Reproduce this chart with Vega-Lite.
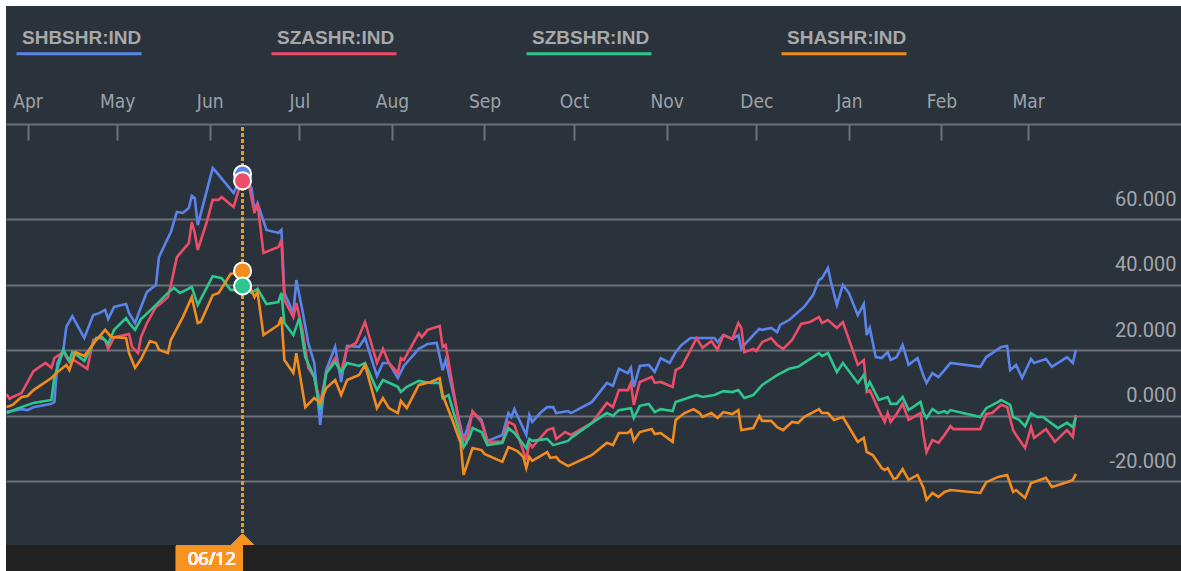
{
  "$schema": "https://vega.github.io/schema/vega-lite/v6.json",
  "width": 1175,
  "height": 565,
  "autosize": {"type": "none"},
  "padding": {"left": 6, "top": 6, "right": 0, "bottom": 0},
  "background": "#ffffff",
  "config": {"view": {"fill": "#2a323c", "stroke": null}, "font": "Roboto"},
  "data": {"values": [
    {"s":"SHBSHR:IND","d":"2015-03-25","v":1.3},{"s":"SHBSHR:IND","d":"2015-03-30","v":2.1},{"s":"SHBSHR:IND","d":"2015-04-01","v":1.8},{"s":"SHBSHR:IND","d":"2015-04-03","v":2.7},{"s":"SHBSHR:IND","d":"2015-04-09","v":3.7},{"s":"SHBSHR:IND","d":"2015-04-10","v":4.3},{"s":"SHBSHR:IND","d":"2015-04-11","v":16.2},{"s":"SHBSHR:IND","d":"2015-04-13","v":20.2},{"s":"SHBSHR:IND","d":"2015-04-14","v":27.2},{"s":"SHBSHR:IND","d":"2015-04-16","v":30.5},{"s":"SHBSHR:IND","d":"2015-04-20","v":23.8},{"s":"SHBSHR:IND","d":"2015-04-23","v":30.8},{"s":"SHBSHR:IND","d":"2015-04-25","v":31.4},{"s":"SHBSHR:IND","d":"2015-04-27","v":32.4},{"s":"SHBSHR:IND","d":"2015-04-28","v":29.6},{"s":"SHBSHR:IND","d":"2015-04-30","v":33.3},{"s":"SHBSHR:IND","d":"2015-05-04","v":34.2},{"s":"SHBSHR:IND","d":"2015-05-05","v":31.4},{"s":"SHBSHR:IND","d":"2015-05-07","v":28.4},{"s":"SHBSHR:IND","d":"2015-05-09","v":33.3},{"s":"SHBSHR:IND","d":"2015-05-11","v":37.9},{"s":"SHBSHR:IND","d":"2015-05-14","v":40.0},{"s":"SHBSHR:IND","d":"2015-05-15","v":48.5},{"s":"SHBSHR:IND","d":"2015-05-18","v":54.3},{"s":"SHBSHR:IND","d":"2015-05-19","v":56.2},{"s":"SHBSHR:IND","d":"2015-05-21","v":62.3},{"s":"SHBSHR:IND","d":"2015-05-23","v":62.0},{"s":"SHBSHR:IND","d":"2015-05-25","v":63.5},{"s":"SHBSHR:IND","d":"2015-05-26","v":67.2},{"s":"SHBSHR:IND","d":"2015-05-27","v":66.6},{"s":"SHBSHR:IND","d":"2015-05-28","v":58.3},{"s":"SHBSHR:IND","d":"2015-06-02","v":75.7},{"s":"SHBSHR:IND","d":"2015-06-04","v":73.6},{"s":"SHBSHR:IND","d":"2015-06-09","v":68.1},{"s":"SHBSHR:IND","d":"2015-06-11","v":72.1},{"s":"SHBSHR:IND","d":"2015-06-12","v":73.9},{"s":"SHBSHR:IND","d":"2015-06-15","v":69.6},{"s":"SHBSHR:IND","d":"2015-06-16","v":62.9},{"s":"SHBSHR:IND","d":"2015-06-17","v":65.0},{"s":"SHBSHR:IND","d":"2015-06-20","v":56.8},{"s":"SHBSHR:IND","d":"2015-06-24","v":55.9},{"s":"SHBSHR:IND","d":"2015-06-25","v":56.8},{"s":"SHBSHR:IND","d":"2015-06-26","v":37.6},{"s":"SHBSHR:IND","d":"2015-06-29","v":31.4},{"s":"SHBSHR:IND","d":"2015-06-30","v":41.5},{"s":"SHBSHR:IND","d":"2015-07-02","v":32.4},{"s":"SHBSHR:IND","d":"2015-07-04","v":22.3},{"s":"SHBSHR:IND","d":"2015-07-06","v":16.2},{"s":"SHBSHR:IND","d":"2015-07-08","v":-2.7},{"s":"SHBSHR:IND","d":"2015-07-10","v":14.0},{"s":"SHBSHR:IND","d":"2015-07-13","v":21.1},{"s":"SHBSHR:IND","d":"2015-07-15","v":10.4},{"s":"SHBSHR:IND","d":"2015-07-17","v":21.4},{"s":"SHBSHR:IND","d":"2015-07-21","v":21.1},{"s":"SHBSHR:IND","d":"2015-07-23","v":23.8},{"s":"SHBSHR:IND","d":"2015-07-27","v":12.2},{"s":"SHBSHR:IND","d":"2015-07-29","v":16.2},{"s":"SHBSHR:IND","d":"2015-07-31","v":16.2},{"s":"SHBSHR:IND","d":"2015-08-03","v":11.6},{"s":"SHBSHR:IND","d":"2015-08-05","v":15.3},{"s":"SHBSHR:IND","d":"2015-08-10","v":20.5},{"s":"SHBSHR:IND","d":"2015-08-13","v":22.0},{"s":"SHBSHR:IND","d":"2015-08-16","v":22.3},{"s":"SHBSHR:IND","d":"2015-08-18","v":14.0},{"s":"SHBSHR:IND","d":"2015-08-19","v":17.1},{"s":"SHBSHR:IND","d":"2015-08-25","v":-7.3},{"s":"SHBSHR:IND","d":"2015-08-28","v":1.2},{"s":"SHBSHR:IND","d":"2015-08-31","v":-1.2},{"s":"SHBSHR:IND","d":"2015-09-02","v":-7.6},{"s":"SHBSHR:IND","d":"2015-09-07","v":-5.8},{"s":"SHBSHR:IND","d":"2015-09-09","v":0.9},{"s":"SHBSHR:IND","d":"2015-09-10","v":-0.3},{"s":"SHBSHR:IND","d":"2015-09-11","v":2.1},{"s":"SHBSHR:IND","d":"2015-09-15","v":-5.8},{"s":"SHBSHR:IND","d":"2015-09-16","v":0.3},{"s":"SHBSHR:IND","d":"2015-09-17","v":-1.8},{"s":"SHBSHR:IND","d":"2015-09-20","v":1.2},{"s":"SHBSHR:IND","d":"2015-09-22","v":2.7},{"s":"SHBSHR:IND","d":"2015-09-24","v":2.7},{"s":"SHBSHR:IND","d":"2015-09-25","v":0.9},{"s":"SHBSHR:IND","d":"2015-09-29","v":1.5},{"s":"SHBSHR:IND","d":"2015-09-30","v":0.9},{"s":"SHBSHR:IND","d":"2015-10-07","v":4.3},{"s":"SHBSHR:IND","d":"2015-10-12","v":10.1},{"s":"SHBSHR:IND","d":"2015-10-14","v":9.2},{"s":"SHBSHR:IND","d":"2015-10-16","v":14.4},{"s":"SHBSHR:IND","d":"2015-10-19","v":13.1},{"s":"SHBSHR:IND","d":"2015-10-20","v":14.7},{"s":"SHBSHR:IND","d":"2015-10-21","v":8.9},{"s":"SHBSHR:IND","d":"2015-10-23","v":15.3},{"s":"SHBSHR:IND","d":"2015-10-26","v":15.6},{"s":"SHBSHR:IND","d":"2015-10-28","v":13.4},{"s":"SHBSHR:IND","d":"2015-10-30","v":17.7},{"s":"SHBSHR:IND","d":"2015-11-02","v":16.2},{"s":"SHBSHR:IND","d":"2015-11-04","v":19.5},{"s":"SHBSHR:IND","d":"2015-11-06","v":21.7},{"s":"SHBSHR:IND","d":"2015-11-09","v":23.8},{"s":"SHBSHR:IND","d":"2015-11-12","v":23.8},{"s":"SHBSHR:IND","d":"2015-11-17","v":23.8},{"s":"SHBSHR:IND","d":"2015-11-18","v":22.6},{"s":"SHBSHR:IND","d":"2015-11-20","v":24.7},{"s":"SHBSHR:IND","d":"2015-11-23","v":23.5},{"s":"SHBSHR:IND","d":"2015-11-25","v":24.7},{"s":"SHBSHR:IND","d":"2015-11-26","v":20.5},{"s":"SHBSHR:IND","d":"2015-11-27","v":21.7},{"s":"SHBSHR:IND","d":"2015-11-30","v":24.7},{"s":"SHBSHR:IND","d":"2015-12-02","v":26.6},{"s":"SHBSHR:IND","d":"2015-12-03","v":26.3},{"s":"SHBSHR:IND","d":"2015-12-06","v":26.9},{"s":"SHBSHR:IND","d":"2015-12-08","v":25.6},{"s":"SHBSHR:IND","d":"2015-12-09","v":27.8},{"s":"SHBSHR:IND","d":"2015-12-12","v":29.3},{"s":"SHBSHR:IND","d":"2015-12-17","v":33.3},{"s":"SHBSHR:IND","d":"2015-12-20","v":36.9},{"s":"SHBSHR:IND","d":"2015-12-22","v":41.5},{"s":"SHBSHR:IND","d":"2015-12-23","v":42.1},{"s":"SHBSHR:IND","d":"2015-12-25","v":45.2},{"s":"SHBSHR:IND","d":"2015-12-26","v":40.9},{"s":"SHBSHR:IND","d":"2015-12-28","v":33.9},{"s":"SHBSHR:IND","d":"2015-12-30","v":40.0},{"s":"SHBSHR:IND","d":"2016-01-01","v":37.6},{"s":"SHBSHR:IND","d":"2016-01-04","v":30.8},{"s":"SHBSHR:IND","d":"2016-01-06","v":34.2},{"s":"SHBSHR:IND","d":"2016-01-07","v":24.7},{"s":"SHBSHR:IND","d":"2016-01-08","v":26.9},{"s":"SHBSHR:IND","d":"2016-01-10","v":18.0},{"s":"SHBSHR:IND","d":"2016-01-12","v":17.7},{"s":"SHBSHR:IND","d":"2016-01-14","v":19.5},{"s":"SHBSHR:IND","d":"2016-01-15","v":17.1},{"s":"SHBSHR:IND","d":"2016-01-17","v":18.0},{"s":"SHBSHR:IND","d":"2016-01-19","v":21.7},{"s":"SHBSHR:IND","d":"2016-01-21","v":15.6},{"s":"SHBSHR:IND","d":"2016-01-24","v":17.7},{"s":"SHBSHR:IND","d":"2016-01-26","v":12.2},{"s":"SHBSHR:IND","d":"2016-01-27","v":10.1},{"s":"SHBSHR:IND","d":"2016-01-29","v":13.1},{"s":"SHBSHR:IND","d":"2016-01-31","v":11.9},{"s":"SHBSHR:IND","d":"2016-02-02","v":14.0},{"s":"SHBSHR:IND","d":"2016-02-04","v":16.2},{"s":"SHBSHR:IND","d":"2016-02-14","v":15.0},{"s":"SHBSHR:IND","d":"2016-02-16","v":18.0},{"s":"SHBSHR:IND","d":"2016-02-18","v":19.2},{"s":"SHBSHR:IND","d":"2016-02-21","v":21.1},{"s":"SHBSHR:IND","d":"2016-02-23","v":21.4},{"s":"SHBSHR:IND","d":"2016-02-24","v":14.0},{"s":"SHBSHR:IND","d":"2016-02-26","v":15.6},{"s":"SHBSHR:IND","d":"2016-02-28","v":11.6},{"s":"SHBSHR:IND","d":"2016-03-02","v":17.4},{"s":"SHBSHR:IND","d":"2016-03-03","v":16.2},{"s":"SHBSHR:IND","d":"2016-03-07","v":17.4},{"s":"SHBSHR:IND","d":"2016-03-09","v":15.0},{"s":"SHBSHR:IND","d":"2016-03-14","v":18.0},{"s":"SHBSHR:IND","d":"2016-03-16","v":16.2},{"s":"SHBSHR:IND","d":"2016-03-17","v":20.2},

    {"s":"SZASHR:IND","d":"2015-03-25","v":6.7},{"s":"SZASHR:IND","d":"2015-03-26","v":5.2},{"s":"SZASHR:IND","d":"2015-03-27","v":5.8},{"s":"SZASHR:IND","d":"2015-03-30","v":7.0},{"s":"SZASHR:IND","d":"2015-04-03","v":13.7},{"s":"SZASHR:IND","d":"2015-04-07","v":16.2},{"s":"SZASHR:IND","d":"2015-04-09","v":14.7},{"s":"SZASHR:IND","d":"2015-04-10","v":17.7},{"s":"SZASHR:IND","d":"2015-04-13","v":19.5},{"s":"SZASHR:IND","d":"2015-04-15","v":16.5},{"s":"SZASHR:IND","d":"2015-04-16","v":17.4},{"s":"SZASHR:IND","d":"2015-04-17","v":16.8},{"s":"SZASHR:IND","d":"2015-04-21","v":14.4},{"s":"SZASHR:IND","d":"2015-04-23","v":23.2},{"s":"SZASHR:IND","d":"2015-04-25","v":23.8},{"s":"SZASHR:IND","d":"2015-04-27","v":23.2},{"s":"SZASHR:IND","d":"2015-04-28","v":20.5},{"s":"SZASHR:IND","d":"2015-04-30","v":24.1},{"s":"SZASHR:IND","d":"2015-05-05","v":25.0},{"s":"SZASHR:IND","d":"2015-05-06","v":21.1},{"s":"SZASHR:IND","d":"2015-05-08","v":19.2},{"s":"SZASHR:IND","d":"2015-05-09","v":24.1},{"s":"SZASHR:IND","d":"2015-05-11","v":28.4},{"s":"SZASHR:IND","d":"2015-05-14","v":33.3},{"s":"SZASHR:IND","d":"2015-05-15","v":33.9},{"s":"SZASHR:IND","d":"2015-05-18","v":36.3},{"s":"SZASHR:IND","d":"2015-05-19","v":40.0},{"s":"SZASHR:IND","d":"2015-05-21","v":48.5},{"s":"SZASHR:IND","d":"2015-05-25","v":52.8},{"s":"SZASHR:IND","d":"2015-05-26","v":59.2},{"s":"SZASHR:IND","d":"2015-05-27","v":55.9},{"s":"SZASHR:IND","d":"2015-05-28","v":50.7},{"s":"SZASHR:IND","d":"2015-05-31","v":59.2},{"s":"SZASHR:IND","d":"2015-06-02","v":66.0},{"s":"SZASHR:IND","d":"2015-06-04","v":66.0},{"s":"SZASHR:IND","d":"2015-06-05","v":66.9},{"s":"SZASHR:IND","d":"2015-06-09","v":63.8},{"s":"SZASHR:IND","d":"2015-06-11","v":69.9},{"s":"SZASHR:IND","d":"2015-06-12","v":71.8},{"s":"SZASHR:IND","d":"2015-06-14","v":71.1},{"s":"SZASHR:IND","d":"2015-06-16","v":62.0},{"s":"SZASHR:IND","d":"2015-06-17","v":65.0},{"s":"SZASHR:IND","d":"2015-06-19","v":49.8},{"s":"SZASHR:IND","d":"2015-06-24","v":51.6},{"s":"SZASHR:IND","d":"2015-06-25","v":53.7},{"s":"SZASHR:IND","d":"2015-06-26","v":35.4},{"s":"SZASHR:IND","d":"2015-06-29","v":30.2},{"s":"SZASHR:IND","d":"2015-06-30","v":34.5},{"s":"SZASHR:IND","d":"2015-07-02","v":26.3},{"s":"SZASHR:IND","d":"2015-07-04","v":14.7},{"s":"SZASHR:IND","d":"2015-07-06","v":11.9},{"s":"SZASHR:IND","d":"2015-07-08","v":4.0},{"s":"SZASHR:IND","d":"2015-07-10","v":13.1},{"s":"SZASHR:IND","d":"2015-07-13","v":17.7},{"s":"SZASHR:IND","d":"2015-07-15","v":13.4},{"s":"SZASHR:IND","d":"2015-07-17","v":20.8},{"s":"SZASHR:IND","d":"2015-07-20","v":22.3},{"s":"SZASHR:IND","d":"2015-07-23","v":28.7},{"s":"SZASHR:IND","d":"2015-07-27","v":16.2},{"s":"SZASHR:IND","d":"2015-07-29","v":20.5},{"s":"SZASHR:IND","d":"2015-07-31","v":16.2},{"s":"SZASHR:IND","d":"2015-08-03","v":13.1},{"s":"SZASHR:IND","d":"2015-08-04","v":17.7},{"s":"SZASHR:IND","d":"2015-08-05","v":17.1},{"s":"SZASHR:IND","d":"2015-08-10","v":25.3},{"s":"SZASHR:IND","d":"2015-08-11","v":24.1},{"s":"SZASHR:IND","d":"2015-08-13","v":26.3},{"s":"SZASHR:IND","d":"2015-08-17","v":27.5},{"s":"SZASHR:IND","d":"2015-08-18","v":21.1},{"s":"SZASHR:IND","d":"2015-08-19","v":21.7},{"s":"SZASHR:IND","d":"2015-08-24","v":-4.9},{"s":"SZASHR:IND","d":"2015-08-26","v":-7.9},{"s":"SZASHR:IND","d":"2015-08-28","v":1.5},{"s":"SZASHR:IND","d":"2015-08-31","v":-1.8},{"s":"SZASHR:IND","d":"2015-09-02","v":-7.9},{"s":"SZASHR:IND","d":"2015-09-07","v":-7.9},{"s":"SZASHR:IND","d":"2015-09-09","v":-1.8},{"s":"SZASHR:IND","d":"2015-09-11","v":-2.7},{"s":"SZASHR:IND","d":"2015-09-15","v":-13.4},{"s":"SZASHR:IND","d":"2015-09-16","v":-8.2},{"s":"SZASHR:IND","d":"2015-09-17","v":-9.5},{"s":"SZASHR:IND","d":"2015-09-22","v":-4.3},{"s":"SZASHR:IND","d":"2015-09-24","v":-3.7},{"s":"SZASHR:IND","d":"2015-09-25","v":-7.0},{"s":"SZASHR:IND","d":"2015-09-28","v":-4.9},{"s":"SZASHR:IND","d":"2015-09-30","v":-5.8},{"s":"SZASHR:IND","d":"2015-10-07","v":-2.1},{"s":"SZASHR:IND","d":"2015-10-12","v":4.0},{"s":"SZASHR:IND","d":"2015-10-14","v":2.7},{"s":"SZASHR:IND","d":"2015-10-16","v":7.9},{"s":"SZASHR:IND","d":"2015-10-19","v":7.9},{"s":"SZASHR:IND","d":"2015-10-20","v":10.1},{"s":"SZASHR:IND","d":"2015-10-21","v":3.4},{"s":"SZASHR:IND","d":"2015-10-23","v":10.4},{"s":"SZASHR:IND","d":"2015-10-27","v":11.9},{"s":"SZASHR:IND","d":"2015-10-28","v":10.1},{"s":"SZASHR:IND","d":"2015-10-30","v":10.4},{"s":"SZASHR:IND","d":"2015-11-03","v":8.9},{"s":"SZASHR:IND","d":"2015-11-04","v":14.0},{"s":"SZASHR:IND","d":"2015-11-06","v":15.0},{"s":"SZASHR:IND","d":"2015-11-09","v":20.2},{"s":"SZASHR:IND","d":"2015-11-11","v":23.8},{"s":"SZASHR:IND","d":"2015-11-13","v":20.8},{"s":"SZASHR:IND","d":"2015-11-16","v":22.9},{"s":"SZASHR:IND","d":"2015-11-18","v":20.2},{"s":"SZASHR:IND","d":"2015-11-20","v":24.7},{"s":"SZASHR:IND","d":"2015-11-23","v":23.5},{"s":"SZASHR:IND","d":"2015-11-25","v":28.4},{"s":"SZASHR:IND","d":"2015-11-26","v":26.9},{"s":"SZASHR:IND","d":"2015-11-27","v":19.5},{"s":"SZASHR:IND","d":"2015-11-30","v":20.5},{"s":"SZASHR:IND","d":"2015-12-01","v":19.8},{"s":"SZASHR:IND","d":"2015-12-03","v":22.6},{"s":"SZASHR:IND","d":"2015-12-06","v":23.8},{"s":"SZASHR:IND","d":"2015-12-08","v":21.7},{"s":"SZASHR:IND","d":"2015-12-10","v":20.5},{"s":"SZASHR:IND","d":"2015-12-13","v":23.2},{"s":"SZASHR:IND","d":"2015-12-16","v":28.1},{"s":"SZASHR:IND","d":"2015-12-19","v":28.7},{"s":"SZASHR:IND","d":"2015-12-22","v":30.2},{"s":"SZASHR:IND","d":"2015-12-23","v":28.4},{"s":"SZASHR:IND","d":"2015-12-25","v":29.3},{"s":"SZASHR:IND","d":"2015-12-28","v":26.9},{"s":"SZASHR:IND","d":"2015-12-30","v":28.7},{"s":"SZASHR:IND","d":"2016-01-04","v":15.6},{"s":"SZASHR:IND","d":"2016-01-06","v":17.1},{"s":"SZASHR:IND","d":"2016-01-07","v":7.3},{"s":"SZASHR:IND","d":"2016-01-08","v":7.9},{"s":"SZASHR:IND","d":"2016-01-11","v":1.8},{"s":"SZASHR:IND","d":"2016-01-13","v":-1.8},{"s":"SZASHR:IND","d":"2016-01-14","v":0.9},{"s":"SZASHR:IND","d":"2016-01-15","v":-1.8},{"s":"SZASHR:IND","d":"2016-01-17","v":0.6},{"s":"SZASHR:IND","d":"2016-01-19","v":3.7},{"s":"SZASHR:IND","d":"2016-01-21","v":-1.2},{"s":"SZASHR:IND","d":"2016-01-25","v":0.9},{"s":"SZASHR:IND","d":"2016-01-26","v":-5.8},{"s":"SZASHR:IND","d":"2016-01-27","v":-11.0},{"s":"SZASHR:IND","d":"2016-01-29","v":-7.3},{"s":"SZASHR:IND","d":"2016-01-31","v":-8.2},{"s":"SZASHR:IND","d":"2016-02-02","v":-5.8},{"s":"SZASHR:IND","d":"2016-02-04","v":-3.1},{"s":"SZASHR:IND","d":"2016-02-05","v":-4.0},{"s":"SZASHR:IND","d":"2016-02-14","v":-4.0},{"s":"SZASHR:IND","d":"2016-02-16","v":0.6},{"s":"SZASHR:IND","d":"2016-02-18","v":0.9},{"s":"SZASHR:IND","d":"2016-02-21","v":3.4},{"s":"SZASHR:IND","d":"2016-02-23","v":2.7},{"s":"SZASHR:IND","d":"2016-02-25","v":-4.3},{"s":"SZASHR:IND","d":"2016-02-26","v":-5.8},{"s":"SZASHR:IND","d":"2016-02-29","v":-9.8},{"s":"SZASHR:IND","d":"2016-03-02","v":-3.4},{"s":"SZASHR:IND","d":"2016-03-03","v":-6.7},{"s":"SZASHR:IND","d":"2016-03-07","v":-4.0},{"s":"SZASHR:IND","d":"2016-03-10","v":-7.9},{"s":"SZASHR:IND","d":"2016-03-14","v":-4.3},{"s":"SZASHR:IND","d":"2016-03-16","v":-6.4},{"s":"SZASHR:IND","d":"2016-03-17","v":0.3},

    {"s":"SZBSHR:IND","d":"2015-03-25","v":0.9},{"s":"SZBSHR:IND","d":"2015-03-29","v":2.4},{"s":"SZBSHR:IND","d":"2015-04-03","v":4.0},{"s":"SZBSHR:IND","d":"2015-04-09","v":4.9},{"s":"SZBSHR:IND","d":"2015-04-10","v":11.9},{"s":"SZBSHR:IND","d":"2015-04-13","v":20.2},{"s":"SZBSHR:IND","d":"2015-04-15","v":16.8},{"s":"SZBSHR:IND","d":"2015-04-16","v":19.5},{"s":"SZBSHR:IND","d":"2015-04-18","v":18.3},{"s":"SZBSHR:IND","d":"2015-04-20","v":16.8},{"s":"SZBSHR:IND","d":"2015-04-24","v":23.8},{"s":"SZBSHR:IND","d":"2015-04-26","v":24.1},{"s":"SZBSHR:IND","d":"2015-04-28","v":22.0},{"s":"SZBSHR:IND","d":"2015-04-30","v":26.3},{"s":"SZBSHR:IND","d":"2015-05-04","v":29.9},{"s":"SZBSHR:IND","d":"2015-05-05","v":28.4},{"s":"SZBSHR:IND","d":"2015-05-07","v":26.3},{"s":"SZBSHR:IND","d":"2015-05-09","v":29.6},{"s":"SZBSHR:IND","d":"2015-05-13","v":33.0},{"s":"SZBSHR:IND","d":"2015-05-18","v":37.6},{"s":"SZBSHR:IND","d":"2015-05-20","v":39.1},{"s":"SZBSHR:IND","d":"2015-05-22","v":37.6},{"s":"SZBSHR:IND","d":"2015-05-26","v":39.4},{"s":"SZBSHR:IND","d":"2015-05-28","v":33.9},{"s":"SZBSHR:IND","d":"2015-06-02","v":42.7},{"s":"SZBSHR:IND","d":"2015-06-05","v":42.1},{"s":"SZBSHR:IND","d":"2015-06-08","v":38.5},{"s":"SZBSHR:IND","d":"2015-06-11","v":38.5},{"s":"SZBSHR:IND","d":"2015-06-12","v":39.7},{"s":"SZBSHR:IND","d":"2015-06-15","v":37.6},{"s":"SZBSHR:IND","d":"2015-06-17","v":38.8},{"s":"SZBSHR:IND","d":"2015-06-20","v":34.2},{"s":"SZBSHR:IND","d":"2015-06-24","v":34.8},{"s":"SZBSHR:IND","d":"2015-06-25","v":37.6},{"s":"SZBSHR:IND","d":"2015-06-26","v":28.4},{"s":"SZBSHR:IND","d":"2015-06-29","v":24.7},{"s":"SZBSHR:IND","d":"2015-07-01","v":29.9},{"s":"SZBSHR:IND","d":"2015-07-03","v":18.0},{"s":"SZBSHR:IND","d":"2015-07-06","v":11.9},{"s":"SZBSHR:IND","d":"2015-07-08","v":1.8},{"s":"SZBSHR:IND","d":"2015-07-10","v":13.1},{"s":"SZBSHR:IND","d":"2015-07-13","v":16.5},{"s":"SZBSHR:IND","d":"2015-07-15","v":13.4},{"s":"SZBSHR:IND","d":"2015-07-17","v":16.2},{"s":"SZBSHR:IND","d":"2015-07-21","v":15.3},{"s":"SZBSHR:IND","d":"2015-07-23","v":16.2},{"s":"SZBSHR:IND","d":"2015-07-27","v":7.9},{"s":"SZBSHR:IND","d":"2015-07-29","v":11.0},{"s":"SZBSHR:IND","d":"2015-08-03","v":8.9},{"s":"SZBSHR:IND","d":"2015-08-04","v":7.3},{"s":"SZBSHR:IND","d":"2015-08-06","v":8.9},{"s":"SZBSHR:IND","d":"2015-08-10","v":10.7},{"s":"SZBSHR:IND","d":"2015-08-14","v":10.1},{"s":"SZBSHR:IND","d":"2015-08-17","v":10.1},{"s":"SZBSHR:IND","d":"2015-08-18","v":5.5},{"s":"SZBSHR:IND","d":"2015-08-20","v":6.4},{"s":"SZBSHR:IND","d":"2015-08-25","v":-9.5},{"s":"SZBSHR:IND","d":"2015-08-27","v":-6.4},{"s":"SZBSHR:IND","d":"2015-08-28","v":-3.7},{"s":"SZBSHR:IND","d":"2015-08-31","v":-4.9},{"s":"SZBSHR:IND","d":"2015-09-02","v":-8.9},{"s":"SZBSHR:IND","d":"2015-09-07","v":-8.2},{"s":"SZBSHR:IND","d":"2015-09-09","v":-3.7},{"s":"SZBSHR:IND","d":"2015-09-11","v":-5.2},{"s":"SZBSHR:IND","d":"2015-09-15","v":-9.8},{"s":"SZBSHR:IND","d":"2015-09-16","v":-7.0},{"s":"SZBSHR:IND","d":"2015-09-17","v":-7.6},{"s":"SZBSHR:IND","d":"2015-09-22","v":-7.0},{"s":"SZBSHR:IND","d":"2015-09-24","v":-8.9},{"s":"SZBSHR:IND","d":"2015-09-29","v":-7.6},{"s":"SZBSHR:IND","d":"2015-09-30","v":-6.7},{"s":"SZBSHR:IND","d":"2015-10-07","v":-2.1},{"s":"SZBSHR:IND","d":"2015-10-12","v":0.9},{"s":"SZBSHR:IND","d":"2015-10-14","v":0.0},{"s":"SZBSHR:IND","d":"2015-10-16","v":1.8},{"s":"SZBSHR:IND","d":"2015-10-20","v":2.4},{"s":"SZBSHR:IND","d":"2015-10-21","v":-0.6},{"s":"SZBSHR:IND","d":"2015-10-23","v":3.1},{"s":"SZBSHR:IND","d":"2015-10-26","v":3.7},{"s":"SZBSHR:IND","d":"2015-10-28","v":1.2},{"s":"SZBSHR:IND","d":"2015-10-30","v":2.1},{"s":"SZBSHR:IND","d":"2015-11-03","v":1.5},{"s":"SZBSHR:IND","d":"2015-11-04","v":4.3},{"s":"SZBSHR:IND","d":"2015-11-08","v":5.5},{"s":"SZBSHR:IND","d":"2015-11-10","v":6.1},{"s":"SZBSHR:IND","d":"2015-11-11","v":6.4},{"s":"SZBSHR:IND","d":"2015-11-13","v":5.8},{"s":"SZBSHR:IND","d":"2015-11-17","v":6.4},{"s":"SZBSHR:IND","d":"2015-11-20","v":7.6},{"s":"SZBSHR:IND","d":"2015-11-23","v":7.3},{"s":"SZBSHR:IND","d":"2015-11-25","v":7.9},{"s":"SZBSHR:IND","d":"2015-11-27","v":5.5},{"s":"SZBSHR:IND","d":"2015-11-30","v":6.4},{"s":"SZBSHR:IND","d":"2015-12-03","v":9.5},{"s":"SZBSHR:IND","d":"2015-12-06","v":11.3},{"s":"SZBSHR:IND","d":"2015-12-08","v":12.5},{"s":"SZBSHR:IND","d":"2015-12-12","v":14.4},{"s":"SZBSHR:IND","d":"2015-12-15","v":15.0},{"s":"SZBSHR:IND","d":"2015-12-17","v":16.2},{"s":"SZBSHR:IND","d":"2015-12-20","v":18.0},{"s":"SZBSHR:IND","d":"2015-12-22","v":19.2},{"s":"SZBSHR:IND","d":"2015-12-23","v":18.3},{"s":"SZBSHR:IND","d":"2015-12-25","v":19.2},{"s":"SZBSHR:IND","d":"2015-12-28","v":13.4},{"s":"SZBSHR:IND","d":"2015-12-30","v":16.2},{"s":"SZBSHR:IND","d":"2016-01-04","v":10.1},{"s":"SZBSHR:IND","d":"2016-01-06","v":12.5},{"s":"SZBSHR:IND","d":"2016-01-07","v":8.5},{"s":"SZBSHR:IND","d":"2016-01-08","v":10.4},{"s":"SZBSHR:IND","d":"2016-01-11","v":4.9},{"s":"SZBSHR:IND","d":"2016-01-14","v":5.8},{"s":"SZBSHR:IND","d":"2016-01-15","v":3.7},{"s":"SZBSHR:IND","d":"2016-01-17","v":3.7},{"s":"SZBSHR:IND","d":"2016-01-19","v":5.8},{"s":"SZBSHR:IND","d":"2016-01-21","v":1.8},{"s":"SZBSHR:IND","d":"2016-01-25","v":4.3},{"s":"SZBSHR:IND","d":"2016-01-26","v":0.9},{"s":"SZBSHR:IND","d":"2016-01-27","v":-0.6},{"s":"SZBSHR:IND","d":"2016-01-29","v":2.1},{"s":"SZBSHR:IND","d":"2016-01-31","v":0.9},{"s":"SZBSHR:IND","d":"2016-02-02","v":1.5},{"s":"SZBSHR:IND","d":"2016-02-03","v":0.9},{"s":"SZBSHR:IND","d":"2016-02-04","v":1.8},{"s":"SZBSHR:IND","d":"2016-02-14","v":-0.3},{"s":"SZBSHR:IND","d":"2016-02-16","v":2.4},{"s":"SZBSHR:IND","d":"2016-02-20","v":4.3},{"s":"SZBSHR:IND","d":"2016-02-21","v":4.9},{"s":"SZBSHR:IND","d":"2016-02-24","v":3.4},{"s":"SZBSHR:IND","d":"2016-02-25","v":-0.3},{"s":"SZBSHR:IND","d":"2016-02-27","v":-1.2},{"s":"SZBSHR:IND","d":"2016-02-29","v":-3.1},{"s":"SZBSHR:IND","d":"2016-03-02","v":0.9},{"s":"SZBSHR:IND","d":"2016-03-04","v":-0.3},{"s":"SZBSHR:IND","d":"2016-03-06","v":-0.3},{"s":"SZBSHR:IND","d":"2016-03-11","v":-3.7},{"s":"SZBSHR:IND","d":"2016-03-14","v":-2.1},{"s":"SZBSHR:IND","d":"2016-03-16","v":-3.4},{"s":"SZBSHR:IND","d":"2016-03-17","v":-0.3},

    {"s":"SHASHR:IND","d":"2015-03-25","v":2.7},{"s":"SHASHR:IND","d":"2015-03-27","v":3.4},{"s":"SHASHR:IND","d":"2015-03-30","v":5.8},{"s":"SHASHR:IND","d":"2015-04-01","v":6.1},{"s":"SHASHR:IND","d":"2015-04-03","v":7.9},{"s":"SHASHR:IND","d":"2015-04-09","v":11.6},{"s":"SHASHR:IND","d":"2015-04-11","v":13.4},{"s":"SHASHR:IND","d":"2015-04-14","v":15.6},{"s":"SHASHR:IND","d":"2015-04-15","v":14.0},{"s":"SHASHR:IND","d":"2015-04-17","v":19.5},{"s":"SHASHR:IND","d":"2015-04-20","v":18.3},{"s":"SHASHR:IND","d":"2015-04-24","v":23.2},{"s":"SHASHR:IND","d":"2015-04-27","v":26.3},{"s":"SHASHR:IND","d":"2015-04-29","v":24.1},{"s":"SHASHR:IND","d":"2015-05-04","v":23.8},{"s":"SHASHR:IND","d":"2015-05-05","v":19.2},{"s":"SHASHR:IND","d":"2015-05-07","v":14.7},{"s":"SHASHR:IND","d":"2015-05-09","v":17.4},{"s":"SHASHR:IND","d":"2015-05-12","v":22.9},{"s":"SHASHR:IND","d":"2015-05-14","v":22.3},{"s":"SHASHR:IND","d":"2015-05-15","v":20.2},{"s":"SHASHR:IND","d":"2015-05-18","v":19.2},{"s":"SHASHR:IND","d":"2015-05-19","v":23.2},{"s":"SHASHR:IND","d":"2015-05-23","v":30.2},{"s":"SHASHR:IND","d":"2015-05-26","v":36.3},{"s":"SHASHR:IND","d":"2015-05-28","v":28.4},{"s":"SHASHR:IND","d":"2015-05-29","v":28.7},{"s":"SHASHR:IND","d":"2015-06-02","v":36.9},{"s":"SHASHR:IND","d":"2015-06-04","v":37.6},{"s":"SHASHR:IND","d":"2015-06-08","v":43.4},{"s":"SHASHR:IND","d":"2015-06-11","v":44.0},{"s":"SHASHR:IND","d":"2015-06-12","v":44.3},{"s":"SHASHR:IND","d":"2015-06-16","v":36.3},{"s":"SHASHR:IND","d":"2015-06-17","v":37.9},{"s":"SHASHR:IND","d":"2015-06-19","v":24.7},{"s":"SHASHR:IND","d":"2015-06-24","v":27.8},{"s":"SHASHR:IND","d":"2015-06-25","v":30.2},{"s":"SHASHR:IND","d":"2015-06-26","v":17.1},{"s":"SHASHR:IND","d":"2015-06-29","v":13.1},{"s":"SHASHR:IND","d":"2015-06-30","v":19.2},{"s":"SHASHR:IND","d":"2015-07-03","v":2.7},{"s":"SHASHR:IND","d":"2015-07-06","v":5.5},{"s":"SHASHR:IND","d":"2015-07-08","v":4.0},{"s":"SHASHR:IND","d":"2015-07-10","v":8.5},{"s":"SHASHR:IND","d":"2015-07-13","v":11.0},{"s":"SHASHR:IND","d":"2015-07-15","v":6.4},{"s":"SHASHR:IND","d":"2015-07-17","v":11.0},{"s":"SHASHR:IND","d":"2015-07-21","v":12.5},{"s":"SHASHR:IND","d":"2015-07-23","v":15.6},{"s":"SHASHR:IND","d":"2015-07-27","v":2.4},{"s":"SHASHR:IND","d":"2015-07-29","v":5.5},{"s":"SHASHR:IND","d":"2015-07-31","v":2.4},{"s":"SHASHR:IND","d":"2015-08-03","v":0.9},{"s":"SHASHR:IND","d":"2015-08-04","v":4.6},{"s":"SHASHR:IND","d":"2015-08-06","v":2.4},{"s":"SHASHR:IND","d":"2015-08-10","v":9.5},{"s":"SHASHR:IND","d":"2015-08-14","v":10.4},{"s":"SHASHR:IND","d":"2015-08-17","v":11.6},{"s":"SHASHR:IND","d":"2015-08-18","v":6.4},{"s":"SHASHR:IND","d":"2015-08-21","v":-0.6},{"s":"SHASHR:IND","d":"2015-08-24","v":-8.2},{"s":"SHASHR:IND","d":"2015-08-25","v":-18.0},{"s":"SHASHR:IND","d":"2015-08-28","v":-9.8},{"s":"SHASHR:IND","d":"2015-08-31","v":-10.4},{"s":"SHASHR:IND","d":"2015-09-01","v":-11.6},{"s":"SHASHR:IND","d":"2015-09-07","v":-14.0},{"s":"SHASHR:IND","d":"2015-09-09","v":-9.5},{"s":"SHASHR:IND","d":"2015-09-12","v":-10.7},{"s":"SHASHR:IND","d":"2015-09-14","v":-12.5},{"s":"SHASHR:IND","d":"2015-09-15","v":-15.9},{"s":"SHASHR:IND","d":"2015-09-16","v":-12.5},{"s":"SHASHR:IND","d":"2015-09-17","v":-13.7},{"s":"SHASHR:IND","d":"2015-09-22","v":-11.0},{"s":"SHASHR:IND","d":"2015-09-23","v":-12.8},{"s":"SHASHR:IND","d":"2015-09-25","v":-12.5},{"s":"SHASHR:IND","d":"2015-09-26","v":-13.7},{"s":"SHASHR:IND","d":"2015-09-29","v":-15.3},{"s":"SHASHR:IND","d":"2015-10-07","v":-11.9},{"s":"SHASHR:IND","d":"2015-10-12","v":-8.2},{"s":"SHASHR:IND","d":"2015-10-14","v":-8.9},{"s":"SHASHR:IND","d":"2015-10-16","v":-5.2},{"s":"SHASHR:IND","d":"2015-10-19","v":-5.2},{"s":"SHASHR:IND","d":"2015-10-20","v":-4.3},{"s":"SHASHR:IND","d":"2015-10-21","v":-7.6},{"s":"SHASHR:IND","d":"2015-10-23","v":-4.9},{"s":"SHASHR:IND","d":"2015-10-27","v":-4.0},{"s":"SHASHR:IND","d":"2015-10-28","v":-5.5},{"s":"SHASHR:IND","d":"2015-10-30","v":-5.2},{"s":"SHASHR:IND","d":"2015-11-03","v":-7.9},{"s":"SHASHR:IND","d":"2015-11-04","v":-1.2},{"s":"SHASHR:IND","d":"2015-11-07","v":0.9},{"s":"SHASHR:IND","d":"2015-11-10","v":2.1},{"s":"SHASHR:IND","d":"2015-11-12","v":0.9},{"s":"SHASHR:IND","d":"2015-11-13","v":-0.3},{"s":"SHASHR:IND","d":"2015-11-16","v":0.9},{"s":"SHASHR:IND","d":"2015-11-18","v":-0.6},{"s":"SHASHR:IND","d":"2015-11-20","v":1.2},{"s":"SHASHR:IND","d":"2015-11-23","v":0.6},{"s":"SHASHR:IND","d":"2015-11-25","v":1.8},{"s":"SHASHR:IND","d":"2015-11-26","v":-4.3},{"s":"SHASHR:IND","d":"2015-11-30","v":-3.7},{"s":"SHASHR:IND","d":"2015-12-02","v":0.0},{"s":"SHASHR:IND","d":"2015-12-03","v":-1.5},{"s":"SHASHR:IND","d":"2015-12-06","v":-1.5},{"s":"SHASHR:IND","d":"2015-12-08","v":-3.4},{"s":"SHASHR:IND","d":"2015-12-10","v":-4.3},{"s":"SHASHR:IND","d":"2015-12-13","v":-1.8},{"s":"SHASHR:IND","d":"2015-12-15","v":-2.1},{"s":"SHASHR:IND","d":"2015-12-17","v":-0.3},{"s":"SHASHR:IND","d":"2015-12-22","v":2.1},{"s":"SHASHR:IND","d":"2015-12-23","v":0.9},{"s":"SHASHR:IND","d":"2015-12-25","v":0.9},{"s":"SHASHR:IND","d":"2015-12-27","v":-1.2},{"s":"SHASHR:IND","d":"2015-12-30","v":-0.3},{"s":"SHASHR:IND","d":"2016-01-04","v":-7.9},{"s":"SHASHR:IND","d":"2016-01-06","v":-6.7},{"s":"SHASHR:IND","d":"2016-01-07","v":-11.0},{"s":"SHASHR:IND","d":"2016-01-09","v":-11.9},{"s":"SHASHR:IND","d":"2016-01-12","v":-15.9},{"s":"SHASHR:IND","d":"2016-01-13","v":-16.5},{"s":"SHASHR:IND","d":"2016-01-14","v":-15.9},{"s":"SHASHR:IND","d":"2016-01-16","v":-19.2},{"s":"SHASHR:IND","d":"2016-01-17","v":-18.9},{"s":"SHASHR:IND","d":"2016-01-19","v":-16.2},{"s":"SHASHR:IND","d":"2016-01-21","v":-19.5},{"s":"SHASHR:IND","d":"2016-01-24","v":-18.0},{"s":"SHASHR:IND","d":"2016-01-26","v":-22.0},{"s":"SHASHR:IND","d":"2016-01-27","v":-25.6},{"s":"SHASHR:IND","d":"2016-01-29","v":-23.5},{"s":"SHASHR:IND","d":"2016-01-31","v":-24.7},{"s":"SHASHR:IND","d":"2016-02-02","v":-23.2},{"s":"SHASHR:IND","d":"2016-02-04","v":-22.6},{"s":"SHASHR:IND","d":"2016-02-14","v":-23.5},{"s":"SHASHR:IND","d":"2016-02-16","v":-20.2},{"s":"SHASHR:IND","d":"2016-02-20","v":-18.6},{"s":"SHASHR:IND","d":"2016-02-23","v":-18.0},{"s":"SHASHR:IND","d":"2016-02-25","v":-23.2},{"s":"SHASHR:IND","d":"2016-02-26","v":-22.6},{"s":"SHASHR:IND","d":"2016-02-29","v":-25.0},{"s":"SHASHR:IND","d":"2016-03-02","v":-20.5},{"s":"SHASHR:IND","d":"2016-03-07","v":-18.9},{"s":"SHASHR:IND","d":"2016-03-09","v":-21.7},{"s":"SHASHR:IND","d":"2016-03-14","v":-20.2},{"s":"SHASHR:IND","d":"2016-03-16","v":-19.5},{"s":"SHASHR:IND","d":"2016-03-17","v":-17.7}
  ]},
  "layer": [
    {
      "mark": {"type": "rect", "color": "#212121"},
      "encoding": {
        "x": {"value": 0},
        "x2": {"value": "width"},
        "y": {"datum": -39.6},
        "y2": {"datum": -47.33}
      }
    },
    {
      "mark": {"type": "line", "strokeWidth": 2.6, "interpolate": "linear"},
      "encoding": {
        "x": {
          "field": "d", "type": "temporal",
          "scale": {"domain": [{"year": 2015, "month": 3, "date": 24, "hours": 19}, {"year": 2016, "month": 4, "date": 21, "hours": 5}]},
          "axis": {
            "orient": "top", "offset": -118, "title": null, "grid": false,
            "values": [{"year":2015,"month":4,"date":1},{"year":2015,"month":5,"date":1},{"year":2015,"month":6,"date":1},{"year":2015,"month":7,"date":1},{"year":2015,"month":8,"date":1},{"year":2015,"month":9,"date":1},{"year":2015,"month":10,"date":1},{"year":2015,"month":11,"date":1},{"year":2015,"month":12,"date":1},{"year":2016,"month":1,"date":1},{"year":2016,"month":2,"date":1},{"year":2016,"month":3,"date":1}],
            "format": "%b", "labelAngle": 0, "labelFlush": false, "labelOverlap": false,
            "labelFont": "Liberation Sans Narrow, DejaVu Sans Condensed, Liberation Sans",
            "labelFontSize": 19, "labelColor": "#9ea3a8", "labelPadding": 29,
            "tickColor": "#6b7178", "tickWidth": 2, "tickSize": -16,
            "domainColor": "#6b7178", "domainWidth": 2
          }
        },
        "y": {
          "field": "v", "type": "quantitative",
          "scale": {"domain": [-47.33, 125.19], "nice": false, "zero": false},
          "axis": {
            "orient": "right", "title": null, "values": [-20, 0, 20, 40, 60],
            "labelExpr": "(datum.value < 0 ? '-' : '') + format(abs(datum.value), '.3f')",
            "labelFont": "Roboto", "labelFontSize": 20, "labelColor": "#a3a7ab",
            "labelAlign": "right", "labelBaseline": "middle", "labelPadding": -5, "labelOffset": -20,
            "ticks": false, "tickSize": 0, "domain": false,
            "grid": true, "gridColor": "#6c7177", "gridWidth": 2, "labelOverlap": false
          }
        },
        "color": {
          "field": "s", "type": "nominal",
          "scale": {"domain": ["SHBSHR:IND", "SZASHR:IND", "SZBSHR:IND", "SHASHR:IND"], "range": ["#5b84ea", "#ec4d69", "#2cc68e", "#f28c1e"]},
          "legend": {
            "orient": "none", "legendX": -5, "legendY": 22, "direction": "horizontal",
            "title": null, "padding": 0,
            "symbolType": "M 6 16 L 131 16", "symbolSize": 4, "symbolStrokeWidth": 3, "symbolOpacity": 1,
            "labelFont": "Liberation Sans", "labelFontWeight": "bold", "labelFontSize": 19,
            "labelColor": "#a8a8a8", "labelOffset": 2, "labelLimit": 300, "columnPadding": 108
          }
        }
      }
    },
    {
      "mark": {"type": "rule", "color": "#e0a028", "strokeWidth": 2, "strokeDash": [3, 3]},
      "encoding": {
        "x": {"datum": {"year": 2015, "month": 6, "date": 12}, "type": "temporal"},
        "y": {"datum": 88},
        "y2": {"datum": -36.6}
      }
    },
    {
      "transform": [
        {"filter": {"field": "d", "timeUnit": "yearmonthdate", "equal": {"year": 2015, "month": 6, "date": 12}}}
      ],
      "mark": {"type": "point", "filled": true, "size": 290, "stroke": "#ffffff", "strokeWidth": 2, "opacity": 1},
      "encoding": {
        "x": {"field": "d", "type": "temporal"},
        "y": {"field": "v", "type": "quantitative"},
        "fill": {
          "field": "s", "type": "nominal", "legend": null,
          "scale": {"domain": ["SHBSHR:IND", "SHASHR:IND", "SZASHR:IND", "SZBSHR:IND"], "range": ["#5b84ea", "#f28c1e", "#ec4d69", "#2cc68e"]}
        },
        "order": {"field": "s", "sort": "ascending"}
      }
    },
    {
      "mark": {"type": "point", "filled": true, "shape": "M 0 -1 L 2 1 L -2 1 Z", "size": 121, "color": "#f7931e", "opacity": 1},
      "encoding": {
        "x": {"datum": {"year": 2015, "month": 6, "date": 12}, "type": "temporal"},
        "y": {"datum": -37.7}
      }
    },
    {
      "mark": {"type": "rect", "color": "#f7931e"},
      "encoding": {
        "x": {"datum": {"year": 2015, "month": 5, "date": 20, "hours": 17}, "type": "temporal"},
        "x2": {"datum": {"year": 2015, "month": 6, "date": 12}},
        "y": {"datum": -39.6},
        "y2": {"datum": -47.33}
      }
    },
    {
      "mark": {"type": "text", "text": "06/12", "color": "#fff4e6", "font": "Open Sans", "fontSize": 18, "align": "center", "baseline": "middle"},
      "encoding": {
        "x": {"datum": {"year": 2015, "month": 6, "date": 1, "hours": 18}, "type": "temporal"},
        "y": {"datum": -44.0}
      }
    }
  ]
}
